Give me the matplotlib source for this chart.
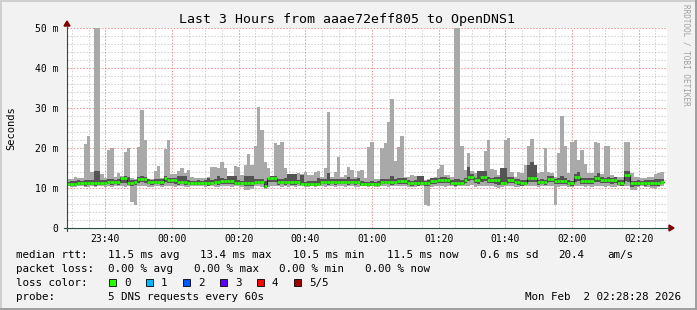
import numpy as np
import matplotlib.pyplot as plt
from matplotlib.patches import Rectangle, Polygon
from matplotlib.lines import Line2D

# per-minute samples (5 sorted pings -> min, lower, median, upper, max), in ms
rtt_min = [
    10.4, 10.2, 10.3, 10.6, 10.4, 10.2, 10.3, 10.5, 10.2, 10.4,
    10.6, 10.3, 10.4, 10.2, 10.5, 10.4, 10.5, 10.3, 10.4, 6.6,
    5.8, 10.4, 10.5, 10.6, 10.3, 10.2, 10.4, 10.5, 10.3, 10.4,
    10.6, 10.5, 10.3, 10.4, 10.5, 10.2, 10.3, 10.5, 10.6, 10.5,
    10.4, 10.3, 10.5, 10.4, 10.2, 10.3, 10.6, 10.5, 10.4, 10.3,
    10.5, 10.4, 10.3, 9.6, 9.5, 9.8, 10.4, 10.6, 10.3, 9.8,
    10.2, 10.6, 10.5, 10.4, 10.3, 10.5, 10.2, 10.4, 10.3, 10.5,
    10.4, 10.2, 10.3, 10.5, 10.2, 10.4, 10.5, 10.3, 10.6, 10.4,
    10.2, 10.5, 10.4, 10.3, 10.5, 10.4, 10.2, 10.3, 10.4, 10.5,
    10.3, 10.4, 10.2, 10.3, 10.5, 10.4, 10.3, 10.6, 10.4, 10.5,
    10.6, 10.4, 10.3, 10.2, 10.3, 10.4, 10.5, 5.8, 5.6, 10.3,
    10.5, 10.6, 10.4, 10.3, 10.5, 10.4, 10.2, 10.4, 10.6, 10.5,
    10.4, 10.7, 10.3, 10.5, 10.4, 10.6, 10.5, 10.4, 10.2, 10.1,
    10.3, 10.5, 10.6, 10.4, 10.3, 10.2, 10.4, 10.5, 10.6, 10.4,
    10.5, 10.3, 10.4, 10.6, 10.5, 10.4, 5.7, 10.3, 10.4, 10.5,
    10.3, 10.2, 10.5, 10.6, 10.4, 10.3, 10.4, 10.2, 10.5, 10.4,
    10.6, 10.3, 10.4, 10.2, 10.3, 10.5, 10.4, 10.6, 10.5, 9.5,
    9.6, 10.3, 10.4, 10.2, 10.3, 10.0, 9.8, 10.2, 10.4,
]
rtt_low = [
    10.6, 10.6, 10.5, 10.7, 10.7, 10.6, 10.7, 10.8, 10.6, 10.7,
    10.8, 10.7, 10.9, 10.8, 10.9, 10.8, 11.2, 11.3, 10.7, 10.6,
    10.8, 11.2, 11.4, 11.3, 10.9, 10.8, 11.0, 10.9, 10.8, 11.6,
    11.3, 11.2, 11.1, 10.8, 10.9, 10.8, 10.7, 10.7, 10.8, 10.7,
    10.8, 10.7, 10.6, 10.7, 10.9, 10.8, 11.0, 11.1, 10.9, 11.0,
    10.7, 10.8, 10.7, 10.6, 10.5, 10.6, 10.9, 11.0, 10.9, 10.0,
    11.4, 11.6, 11.5, 10.8, 10.9, 10.8, 10.9, 10.7, 10.8, 10.9,
    10.7, 10.6, 10.5, 10.6, 10.5, 10.6, 10.9, 11.0, 10.8, 10.9,
    10.8, 10.9, 11.0, 10.9, 10.8, 10.9, 10.8, 11.0, 10.5, 10.6,
    10.6, 10.5, 10.6, 10.5, 10.9, 11.0, 10.9, 10.8, 11.0, 11.1,
    11.0, 11.1, 10.7, 10.6, 10.7, 10.6, 10.7, 10.6, 10.5, 11.0,
    11.1, 11.2, 11.3, 11.2, 11.3, 10.7, 10.6, 10.7, 10.8, 11.3,
    11.8, 11.9, 11.2, 11.1, 11.6, 11.7, 11.2, 11.3, 11.1, 10.8,
    10.7, 10.8, 11.3, 11.2, 10.9, 10.8, 10.6, 10.7, 11.5, 11.4,
    11.6, 10.8, 10.9, 10.8, 11.5, 11.4, 11.0, 10.9, 11.0, 11.1,
    10.7, 10.6, 11.6, 11.7, 11.0, 11.1, 11.0, 10.9, 11.5, 11.4,
    11.2, 11.3, 11.2, 11.1, 11.2, 10.7, 10.6, 11.8, 11.6, 10.3,
    10.4, 10.6, 10.7, 10.6, 10.7, 10.6, 10.5, 10.6, 10.9,
]
rtt_median = [
    11.0, 11.0, 11.0, 11.2, 11.2, 11.2, 11.2, 11.2, 11.2, 11.2,
    11.3, 11.3, 11.6, 11.6, 11.6, 11.6, 12.4, 12.4, 11.2, 11.2,
    11.4, 12.2, 12.2, 12.2, 11.6, 11.6, 11.6, 11.6, 11.6, 12.6,
    12.0, 12.0, 12.0, 11.6, 11.6, 11.6, 11.2, 11.2, 11.2, 11.2,
    11.2, 11.2, 11.2, 11.2, 11.6, 11.6, 11.8, 11.8, 11.8, 11.8,
    11.2, 11.2, 11.2, 11.2, 11.2, 11.2, 11.6, 11.6, 11.6, 10.4,
    12.4, 12.4, 12.4, 11.6, 11.6, 11.6, 11.6, 11.4, 11.4, 11.4,
    11.0, 11.0, 11.0, 11.0, 11.0, 11.0, 11.6, 11.6, 11.6, 11.6,
    11.6, 11.6, 11.6, 11.6, 11.6, 11.6, 11.6, 11.6, 11.0, 11.0,
    11.0, 11.0, 11.0, 11.0, 11.6, 11.6, 11.6, 11.6, 11.6, 11.8,
    11.8, 11.8, 11.2, 11.2, 11.2, 11.2, 11.2, 11.2, 11.2, 11.8,
    11.8, 12.0, 12.0, 12.0, 12.0, 11.2, 11.2, 11.2, 11.2, 12.0,
    12.8, 12.8, 11.9, 11.9, 12.8, 12.8, 12.0, 12.0, 12.0, 12.0,
    11.3, 11.3, 12.1, 12.1, 11.6, 11.6, 11.2, 11.2, 12.4, 12.4,
    12.4, 11.4, 11.4, 11.4, 12.3, 12.3, 11.7, 11.7, 11.7, 11.7,
    11.2, 11.2, 12.8, 12.8, 11.8, 11.8, 11.8, 11.8, 12.4, 12.4,
    12.0, 12.0, 12.0, 12.0, 12.0, 11.3, 11.3, 13.2, 13.2, 11.2,
    11.2, 11.2, 11.2, 11.2, 11.2, 11.2, 11.2, 11.2, 11.6,
]
rtt_high = [
    11.6, 11.8, 11.7, 11.9, 11.8, 12.0, 12.0, 12.1, 14.2, 14.2,
    12.0, 11.9, 12.2, 12.3, 12.1, 12.3, 12.8, 12.9, 12.8, 11.9,
    12.0, 12.8, 12.9, 12.7, 12.2, 12.1, 12.3, 12.3, 12.3, 13.1,
    12.6, 12.5, 12.4, 13.0, 13.0, 13.0, 11.9, 11.8, 11.8, 11.9,
    11.8, 11.9, 12.4, 11.9, 12.2, 13.0, 12.4, 12.3, 13.0, 13.0,
    13.0, 11.9, 11.8, 13.0, 13.0, 13.0, 12.2, 12.3, 12.2, 11.8,
    12.4, 12.9, 13.0, 12.3, 12.2, 12.4, 13.5, 13.5, 13.5, 12.0,
    13.2, 11.6, 11.7, 11.8, 11.7, 12.4, 12.2, 12.2, 13.8, 12.2,
    12.2, 12.3, 12.2, 12.2, 12.8, 12.3, 12.2, 12.4, 11.7, 11.6,
    11.6, 11.7, 11.6, 11.7, 12.2, 12.3, 12.2, 13.1, 12.3, 12.5,
    12.4, 12.4, 11.9, 11.8, 11.9, 13.1, 13.1, 11.8, 11.9, 12.4,
    12.5, 12.6, 12.8, 12.7, 12.6, 11.9, 12.2, 12.2, 11.9, 12.6,
    15.3, 13.4, 12.5, 14.3, 14.3, 14.3, 12.7, 12.6, 12.7, 12.7,
    14.9, 14.9, 12.8, 12.7, 12.2, 12.3, 11.9, 11.9, 15.7, 16.6,
    15.7, 12.0, 12.2, 12.0, 13.1, 13.1, 12.3, 12.4, 12.9, 12.4,
    11.9, 11.8, 13.4, 14.1, 12.4, 12.5, 12.4, 12.5, 13.1, 13.7,
    12.7, 12.6, 12.7, 12.6, 12.7, 12.0, 11.9, 14.3, 14.3, 11.8,
    11.8, 11.9, 11.8, 12.0, 12.0, 11.9, 12.2, 12.2, 12.2,
]
rtt_max = [
    12.3, 12.3, 12.8, 12.5, 12.4, 21.0, 23.0, 14.0, 50.0, 50.0,
    13.5, 12.4, 19.5, 20.1, 12.8, 13.7, 12.9, 19.0, 20.0, 12.5,
    12.3, 20.2, 29.5, 22.0, 12.3, 12.2, 14.3, 15.5, 12.4, 19.8,
    22.0, 13.5, 13.6, 14.3, 15.0, 13.7, 14.5, 12.8, 12.4, 12.4,
    12.4, 12.6, 12.8, 15.3, 15.3, 15.1, 16.6, 15.0, 12.8, 12.4,
    15.5, 15.3, 13.2, 15.8, 18.5, 15.8, 20.6, 30.2, 24.5, 16.4,
    15.1, 12.8, 21.3, 20.8, 21.6, 15.1, 13.5, 12.8, 12.8, 13.7,
    13.5, 14.1, 13.2, 13.2, 14.1, 14.3, 12.8, 15.1, 29.1, 12.8,
    14.1, 17.8, 12.8, 13.2, 15.3, 14.5, 12.8, 14.3, 14.5, 12.6,
    20.3, 21.6, 12.3, 12.3, 20.1, 21.2, 26.6, 32.2, 16.8, 20.3,
    23.1, 12.8, 12.8, 13.2, 13.1, 13.1, 12.8, 12.0, 12.2, 12.3,
    12.8, 14.8, 15.8, 13.2, 13.2, 12.8, 50.0, 50.0, 20.6, 14.5,
    18.8, 14.3, 13.7, 14.1, 13.7, 19.2, 22.0, 14.8, 14.5, 13.2,
    13.2, 22.0, 22.4, 14.1, 12.8, 14.1, 13.7, 15.8, 20.6, 22.2,
    14.1, 13.7, 14.0, 20.0, 14.1, 13.7, 12.8, 18.8, 28.0, 20.6,
    13.7, 21.6, 22.0, 16.9, 19.5, 16.0, 13.7, 13.7, 21.6, 21.2,
    13.4, 20.6, 20.6, 13.2, 12.8, 12.8, 12.8, 21.6, 21.6, 13.7,
    12.8, 12.8, 12.4, 12.4, 12.8, 12.8, 13.4, 13.7, 13.9,
]

# time axis in minutes since 23:28:28
tick_minutes = [11.53, 31.53, 51.53, 71.53, 91.53, 111.53, 131.53, 151.53, 171.53]
tick_labels = ['23:40', '00:00', '00:20', '00:40', '01:00', '01:20', '01:40', '02:00', '02:20']
ytick_values = [0, 10, 20, 30, 40, 50]
ytick_labels = ['0', '10 m', '20 m', '30 m', '40 m', '50 m']
loss_colors = ['#26ff00', '#00b8ff', '#0059ff', '#5e00ff', '#ff0000', '#a00000']
loss_names = ['0', '1', '2', '3', '4', '5/5']

W, H = 697, 310
MONO = 'DejaVu Sans Mono'

def fx(px):
    return px / W

def fy(py):
    return 1 - py / H

fig = plt.figure(figsize=(W / 100, H / 100), dpi=100, facecolor='#f2f2f2')
ax = fig.add_axes([fx(67), fy(228), 600 / W, 200 / H])
ax.set_facecolor('white')

n = len(rtt_median)
edges = np.arange(n + 1)
def ext(a):
    return np.append(a, a[-1])

# smoke: outer band (min..max) and inner band (2nd..4th ping)
ax.fill_between(edges, ext(rtt_min), ext(rtt_max), step='post', color='#a9a9a9', lw=0, zorder=2)
ax.fill_between(edges, ext(rtt_low), ext(rtt_high), step='post', color='#545454', lw=0, zorder=3)
ax.step(edges, ext(rtt_median), where='post', color='#202020', lw=0.8, zorder=4)
ax.hlines(rtt_median, edges[:-1], edges[1:], color=loss_colors[0], lw=1.9, zorder=5)

ax.set_xlim(0, 180)
ax.set_ylim(0, 50)

# grid
dots = (0, (1.5, 1.5))
for m in np.arange(1.53, 180, 5):
    major = any(abs(m - t) < 0.01 for t in tick_minutes)
    ax.axvline(m, color='#de5050' if major else '#8f8f8f', alpha=0.55 if major else 0.38,
               lw=0.75, ls=dots, zorder=1)
for v in range(2, 51, 2):
    major = v % 10 == 0
    ax.axhline(v, color='#de5050' if major else '#8f8f8f', alpha=0.55 if major else 0.38,
               lw=0.75, ls=dots, zorder=1)

for s in ax.spines.values():
    s.set_visible(False)
ax.set_xticks(tick_minutes)
ax.set_xticklabels(tick_labels, fontfamily=MONO, fontsize=7)
ax.set_yticks(ytick_values)
ax.set_yticklabels(ytick_labels, fontfamily=MONO, fontsize=7)
ax.tick_params(axis='x', length=0, pad=4)
ax.tick_params(axis='y', length=0, pad=6)

# axes lines and arrows
axis_c = '#2c4d43'
fig.add_artist(Line2D([fx(64), fx(669)], [fy(228), fy(228)], color=axis_c, lw=0.8))
fig.add_artist(Line2D([fx(67), fx(67)], [fy(231), fy(26)], color=axis_c, lw=0.8))
fig.add_artist(Polygon([[fx(64), fy(26)], [fx(70), fy(26)], [fx(67), fy(21)]], color='#7f0000'))
fig.add_artist(Polygon([[fx(669), fy(225)], [fx(669), fy(231)], [fx(674), fy(228)]], color='#7f0000'))

fig.text(fx(347), fy(19), 'Last 3 Hours from aaae72eff805 to OpenDNS1',
         ha='center', va='center', fontfamily=MONO, fontsize=9.5)
fig.text(fx(11), fy(128), 'Seconds', rotation=90, ha='center', va='center',
         fontfamily=MONO, fontsize=7.5)
fig.text(fx(686), fy(4), 'RRDTOOL / TOBI OETIKER', rotation=-90, ha='center', va='top',
         fontfamily=MONO, fontsize=5.5, color='#a0a0a0')

def leg(x, y, s, ha='left'):
    fig.text(fx(x), fy(y), s, ha=ha, va='center', fontfamily=MONO, fontsize=7.8)

leg(16, 255, 'median rtt:')
leg(108, 255, '11.5 ms avg')
leg(200, 255, '13.4 ms max')
leg(293, 255, '10.5 ms min')
leg(387, 255, '11.5 ms now')
leg(480, 255, '0.6 ms sd')
leg(558, 255, '20.4')
leg(607, 255, 'am/s')

leg(16, 269, 'packet loss:')
leg(108, 269, '0.00 % avg')
leg(194, 269, '0.00 % max')
leg(279, 269, '0.00 % min')
leg(365, 269, '0.00 % now')

leg(16, 283, 'loss color:')
for k, (c, name) in enumerate(zip(loss_colors, loss_names)):
    x0 = 109 + k * 37
    fig.add_artist(Rectangle((fx(x0), fy(286)), 7 / W, 7 / H, facecolor=c,
                             edgecolor='black', lw=0.6))
    leg(x0 + 15, 283, name)

leg(16, 297, 'probe:')
leg(108, 297, '5 DNS requests every 60s')
leg(681, 297, 'Mon Feb  2 02:28:28 2026', ha='right')

# 3d frame
fig.add_artist(Line2D([0, 1], [fy(0.5), fy(0.5)], color='#cfcfcf', lw=1.4))
fig.add_artist(Line2D([fx(0.5), fx(0.5)], [0, 1], color='#cfcfcf', lw=1.4))
fig.add_artist(Line2D([0, 1], [fy(309), fy(309)], color='#9e9e9e', lw=1.4))
fig.add_artist(Line2D([fx(696), fx(696)], [0, 1], color='#9e9e9e', lw=1.4))

fig.savefig('out.png', dpi=100, facecolor=fig.get_facecolor())
